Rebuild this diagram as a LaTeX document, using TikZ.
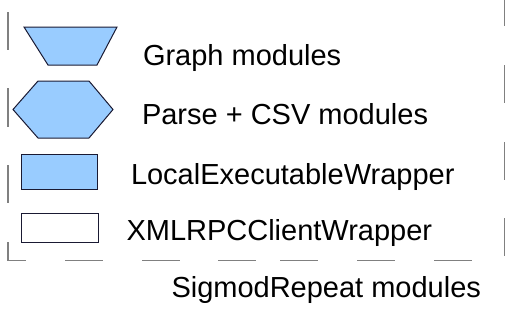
\documentclass[tikz,border=0pt]{standalone}
\usepackage{fontspec}
\setmainfont{Liberation Sans}
\definecolor{modblue}{HTML}{99CCFF}
\definecolor{modline}{HTML}{1A1A33}
\definecolor{framegray}{HTML}{808080}
\begin{document}
\begin{tikzpicture}[x=1pt,y=-1pt,
  shapeline/.style={draw=modline,line width=1pt,line join=miter},
  bluefill/.style={shapeline,fill=modblue},
  whitefill/.style={shapeline,fill=white},
  frameline/.style={draw=framegray,line width=1.4pt},
  legendtext/.style={anchor=base west,inner sep=0pt,outer sep=0pt,font=\fontsize{29}{34}\selectfont}]
\useasboundingbox (0,0) rectangle (509,322);
% dashed frame (SigmodRepeat)
\foreach \a/\b in {12/50,88/127,165/203}
  \draw[frameline] (8,\a) -- (8,\b);
\draw[frameline] (8,242) -- (8,260.5) -- (26,260.5);
\foreach \a/\b in {0/26,65/103,142/180,218/256}
  \draw[frameline] (504.5,\a) -- (504.5,\b);
\foreach \a/\b in {65/103,142/180,218/256,280/318,357/395,434/472}
  \draw[frameline] (\a,260.5) -- (\b,260.5);
% legend symbols
\path[bluefill] (24,27) -- (117,27) -- (97,65) -- (48,65) -- cycle;
\path[bluefill] (13,109.5) -- (38,81) -- (89,81) -- (113,109.5) -- (89,138) -- (38,138) -- cycle;
\path[bluefill] (21,154) rectangle (97,189);
\path[whitefill] (21,213) rectangle (98,242);
% labels
\node[legendtext] (tgraph) at (143,65) {Graph modules};
\node[legendtext] (tparse) at (142,124) {Parse + CSV modules};
\node[legendtext] (tlocal) at (131,184) {LocalExecutableWrapper};
\node[legendtext] (txml) at (126.5,240) {XMLRPCClientWrapper};
\node[legendtext] (tsigmod) at (171.5,297) {SigmodRepeat modules};
\end{tikzpicture}
\end{document}
